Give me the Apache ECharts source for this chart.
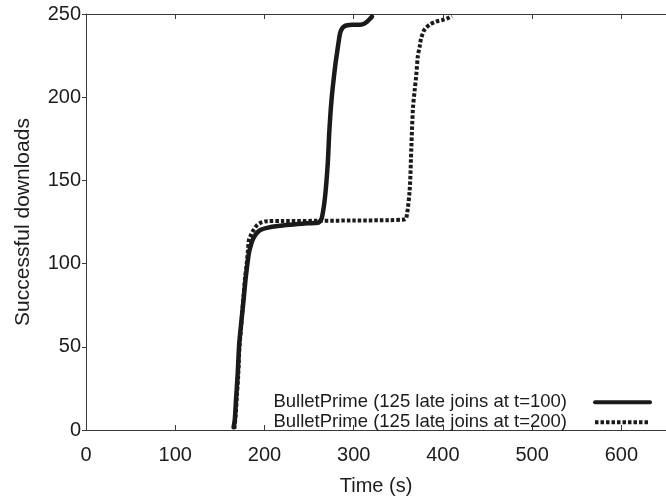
<!DOCTYPE html>
<html>
<head>
<meta charset="utf-8">
<script src="https://cdn.jsdelivr.net/npm/echarts@6/dist/echarts.min.js"></script>
<style>
  html, body { margin: 0; padding: 0; background: #fff; }
  #chart { width: 666px; height: 501px; }
</style>
</head>
<body>
<div id="chart"></div>
<script>
// Late joins at t=100: completion time (s) and cumulative downloads
const timeA = [165.4, 166.8, 168.2, 169.8, 171.7, 173.5, 175.3, 177.1, 178.9, 180.8, 182.7, 184.5, 186.3, 189, 191.8, 196, 202.9, 215, 232.3, 248, 259.8, 262, 264.3, 267.9, 270.9, 272.7, 275.3, 279.3, 281.9, 284.8, 287, 289.2, 293, 298.4, 307.6, 311, 315, 318, 320.5];
const downloadsA = [1.6, 6.5, 19, 32, 51.7, 62, 71.4, 81, 91, 99.5, 106.8, 110.5, 113.7, 116.5, 118.6, 120.3, 121.5, 122.6, 123.5, 124.2, 124.5, 125.3, 127.4, 140.1, 159.9, 179.6, 199.2, 218.9, 228.7, 238.6, 241.3, 242.5, 243.2, 243.5, 243.6, 244, 245.4, 247, 248.4];

// Late joins at t=200
const timeB = [166.3, 167.6, 169, 170.5, 172, 173.6, 175, 176.5, 178, 179.8, 181.2, 182.7, 184.5, 186.3, 188.2, 191.5, 195.5, 202.9, 220, 260, 300, 340, 356.5, 359, 362.7, 364.6, 366.4, 368.3, 370.1, 371.9, 373.8, 375.6, 377.4, 379.3, 384.8, 392.1, 399.4, 404.9, 410];
const downloadsB = [0.8, 8, 20, 32, 50, 60, 70, 80, 90, 98.5, 106, 114.7, 116.8, 118.8, 120.6, 123, 124.5, 125.5, 125.6, 125.7, 125.9, 126.1, 126.5, 127.4, 144, 169.7, 193.3, 204, 213, 224.8, 230, 235.6, 238.2, 240.5, 243.5, 245.4, 246.4, 247.4, 248.8];

const seriesNames = [
  'BulletPrime (125 late joins at t=100)',
  'BulletPrime (125 late joins at t=200)'
];

const xTicks = { min: 0, max: 650, interval: 100 };
const yTicks = { min: 0, max: 250, interval: 50 };

const pairs = (xs, ys) => xs.map((x, i) => [x, ys[i]]);

const FONT = '"Liberation Sans", Arial, Helvetica, sans-serif';
const INK = '#1c1c1c';
const AXIS = '#3a3a3a';

const chart = echarts.init(document.getElementById('chart'), null, { renderer: 'canvas' });

const baseX = {
  type: 'value',
  min: xTicks.min,
  max: xTicks.max,
  interval: xTicks.interval,
  splitLine: { show: false },
  axisLine: { show: true, lineStyle: { color: AXIS, width: 1 } },
  axisTick: { show: true, inside: true, length: 5, lineStyle: { color: AXIS } }
};

chart.setOption({
  animation: false,
  backgroundColor: '#fff',
  textStyle: { fontFamily: FONT },
  grid: { left: 86, top: 14, width: 589.6, height: 423.7, containLabel: false },
  legend: {
    orient: 'vertical',
    right: 14,
    top: 392.7,
    padding: 0,
    itemGap: 1,
    itemWidth: 55,
    itemHeight: 14,
    align: 'right',
    selectedMode: false,
    itemStyle: { opacity: 0 },
    lineStyle: { width: 4 },
    textStyle: { fontFamily: FONT, fontSize: 18.5, color: INK, padding: [0, 23, 0, 0] },
    data: seriesNames
  },
  xAxis: [
    Object.assign({}, baseX, {
      position: 'bottom',
      name: 'Time (s)',
      nameLocation: 'middle',
      nameGap: 46,
      nameTextStyle: { fontFamily: FONT, fontSize: 20, color: INK },
      axisLabel: { show: true, margin: 15.5, fontSize: 20, color: INK, fontFamily: FONT, showMaxLabel: false }
    }),
    Object.assign({}, baseX, {
      position: 'top',
      axisLabel: { show: false }
    })
  ],
  yAxis: {
    type: 'value',
    min: yTicks.min,
    max: yTicks.max,
    interval: yTicks.interval,
    name: 'Successful downloads',
    nameLocation: 'middle',
    nameGap: 52,
    nameTextStyle: { fontFamily: FONT, fontSize: 21, color: INK },
    splitLine: { show: false },
    axisLine: { show: true, lineStyle: { color: AXIS, width: 1 } },
    axisTick: { show: true, inside: false, length: 4, lineStyle: { color: AXIS } },
    axisLabel: { margin: 5, fontSize: 20, color: INK, fontFamily: FONT }
  },
  series: [
    {
      name: seriesNames[0],
      type: 'line',
      data: pairs(timeA, downloadsA),
      showSymbol: false,
      symbol: 'none',
      smooth: 0.3,
      lineStyle: { color: '#1a1a1a', width: 4.5, type: 'solid', cap: 'round', join: 'round' },
      itemStyle: { color: '#1a1a1a' },
      z: 3
    },
    {
      name: seriesNames[1],
      type: 'line',
      data: pairs(timeB, downloadsB),
      showSymbol: false,
      symbol: 'none',
      smooth: 0.3,
      lineStyle: { color: '#1a1a1a', width: 4, type: [3.5, 2], cap: 'butt' },
      itemStyle: { color: '#1a1a1a' },
      z: 2
    }
  ]
});
</script>
</body>
</html>
